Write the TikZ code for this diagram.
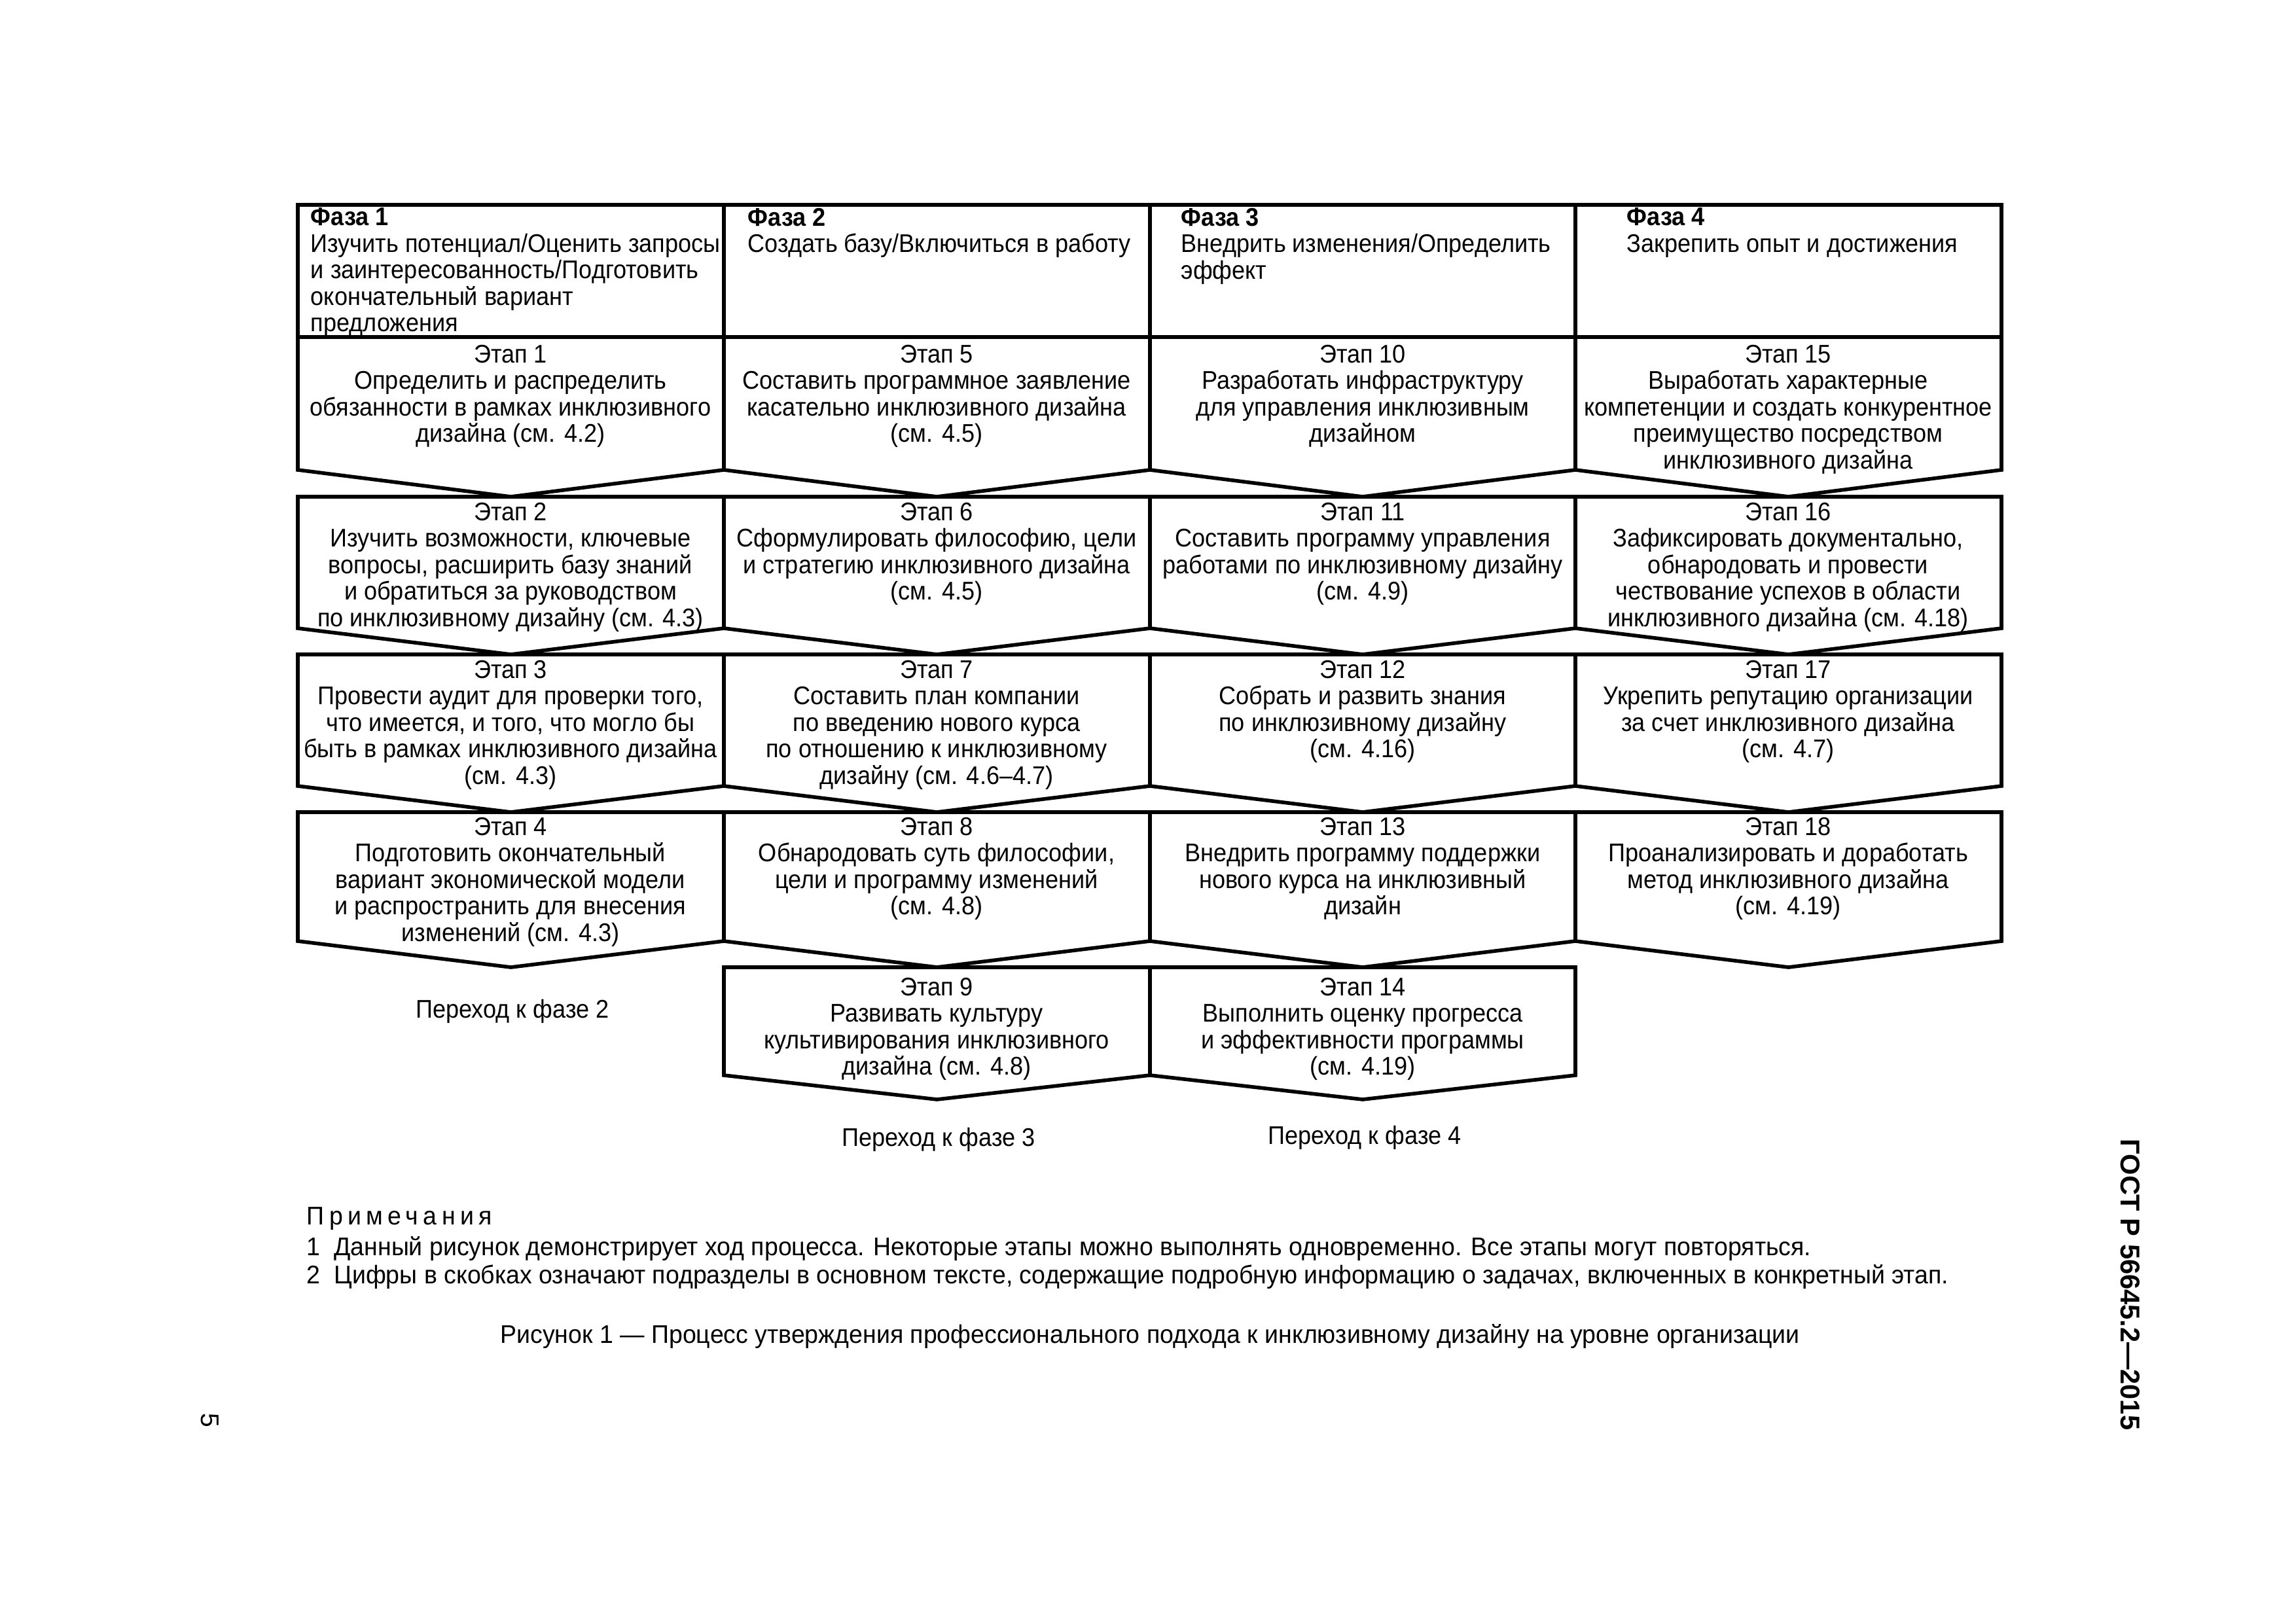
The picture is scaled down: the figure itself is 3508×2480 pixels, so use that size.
\documentclass[tikz,border=0pt]{standalone}
\usepackage{fontspec}
\setmainfont{Liberation Sans}
\newfontfamily\figfont[FakeStretch=0.925]{Liberation Sans}
\newfontfamily\notefont[FakeStretch=0.96]{Liberation Sans}
\newfontfamily\spacedfont[LetterSpace=19, FakeStretch=0.96]{Liberation Sans}
\usetikzlibrary{positioning}

\begin{document}
\begin{tikzpicture}[
    x=0.08466mm, y=-0.08466mm,
    frame/.style={draw, line width=1.35pt, line join=miter},
    stagetext/.style={anchor=north, align=center, inner sep=0pt, font=\figfont\fontsize{9.4}{9.75}\selectfont},
    phasetext/.style={anchor=north west, align=left, inner sep=0pt, font=\figfont\fontsize{9.4}{9.75}\selectfont},
    nexttext/.style={inner sep=0pt, font=\figfont\fontsize{9.4}{9.75}\selectfont},
    notetext/.style={anchor=base west, inner sep=0pt, font=\notefont\fontsize{9.4}{11}\selectfont}
  ]
  \useasboundingbox (0,0) rectangle (3508,2480);

  % Phase header
  \draw[frame] (455,313) rectangle (3058,515);
  \foreach \xc in {1106,1757,2407}
    \draw[frame] (\xc,313) -- (\xc,515);

  % Stage chevrons
  \foreach \t/\s/\p in {515/718/759, 759/960/1000, 1000/1201/1241, 1241/1438/1478}
    \foreach \xl/\xr in {455/1106, 1106/1757, 1757/2407, 2407/3058}
      \draw[frame] (\xl,\t) -- (\xr,\t) -- (\xr,\s) -- ({(\xl+\xr)/2},\p) -- (\xl,\s) -- cycle;
  \foreach \xl/\xr in {1106/1757, 1757/2407}
    \draw[frame] (\xl,1478) -- (\xr,1478) -- (\xr,1643) -- ({(\xl+\xr)/2},1680) -- (\xl,1643) -- cycle;

  % Phases
  \node[phasetext] (f1) at (474,317) {\textbf{Фаза 1}\\Изучить потенциал/Оценить запросы\\и заинтересованность/Подготовить\\окончательный вариант\\предложения};
  \node[phasetext] (f2) at (1142,317) {\textbf{Фаза 2}\\Создать базу/Включиться в работу};
  \node[phasetext] (f3) at (1804,317) {\textbf{Фаза 3}\\Внедрить изменения/Определить\\эффект};
  \node[phasetext] (f4) at (2485,317) {\textbf{Фаза 4}\\Закрепить опыт и достижения};

  % Phase 1
  \node[stagetext] (s1) at (780,526) {Этап 1\\Определить и распределить\\обязанности в рамках инклюзивного\\дизайна (см. 4.2)};
  \node[stagetext] (s2) at (780,767) {Этап 2\\Изучить возможности, ключевые\\вопросы, расширить базу знаний\\и обратиться за руководством\\по инклюзивному дизайну (см. 4.3)};
  \node[stagetext] (s3) at (780,1008) {Этап 3\\Провести аудит для проверки того,\\что имеется, и того, что могло бы\\быть в рамках инклюзивного дизайна\\(см. 4.3)};
  \node[stagetext] (s4) at (780,1248) {Этап 4\\Подготовить окончательный\\вариант экономической модели\\и распространить для внесения\\изменений (см. 4.3)};

  % Phase 2
  \node[stagetext] (s5) at (1431,526) {Этап 5\\Составить программное заявление\\касательно инклюзивного дизайна\\(см. 4.5)};
  \node[stagetext] (s6) at (1431,767) {Этап 6\\Сформулировать философию, цели\\и стратегию инклюзивного дизайна\\(см. 4.5)};
  \node[stagetext] (s7) at (1431,1008) {Этап 7\\Составить план компании\\по введению нового курса\\по отношению к инклюзивному\\дизайну (см. 4.6–4.7)};
  \node[stagetext] (s8) at (1431,1248) {Этап 8\\Обнародовать суть философии,\\цели и программу изменений\\(см. 4.8)};
  \node[stagetext] (s9) at (1431,1493) {Этап 9\\Развивать культуру\\культивирования инклюзивного\\дизайна (см. 4.8)};

  % Phase 3
  \node[stagetext] (s10) at (2082,526) {Этап 10\\Разработать инфраструктуру\\для управления инклюзивным\\дизайном};
  \node[stagetext] (s11) at (2082,767) {Этап 11\\Составить программу управления\\работами по инклюзивному дизайну\\(см. 4.9)};
  \node[stagetext] (s12) at (2082,1008) {Этап 12\\Собрать и развить знания\\по инклюзивному дизайну\\(см. 4.16)};
  \node[stagetext] (s13) at (2082,1248) {Этап 13\\Внедрить программу поддержки\\нового курса на инклюзивный\\дизайн};
  \node[stagetext] (s14) at (2082,1493) {Этап 14\\Выполнить оценку прогресса\\и эффективности программы\\(см. 4.19)};

  % Phase 4
  \node[stagetext] (s15) at (2732,526) {Этап 15\\Выработать характерные\\компетенции и создать конкурентное\\преимущество посредством\\инклюзивного дизайна};
  \node[stagetext] (s16) at (2732,767) {Этап 16\\Зафиксировать документально,\\обнародовать и провести\\чествование успехов в области\\инклюзивного дизайна (см. 4.18)};
  \node[stagetext] (s17) at (2732,1008) {Этап 17\\Укрепить репутацию организации\\за счет инклюзивного дизайна\\(см. 4.7)};
  \node[stagetext] (s18) at (2732,1248) {Этап 18\\Проанализировать и доработать\\метод инклюзивного дизайна\\(см. 4.19)};

  % Transitions
  \node[nexttext] (n2) at (783,1545) {Переход к фазе 2};
  \node[nexttext] (n3) at (1434,1741) {Переход к фазе 3};
  \node[nexttext] (n4) at (2085,1738) {Переход к фазе 4};

  % Notes and caption
  \node[notetext, font=\spacedfont\fontsize{9.4}{11}\selectfont] (notes) at (468,1871) {Примечания};
  \node[notetext] (note1) at (468,1918) {1\ \ Данный рисунок демонстрирует ход процесса. Некоторые этапы можно выполнять одновременно. Все этапы могут повторяться.};
  \node[notetext] (note2) at (468,1961) {2\ \ Цифры в скобках означают подразделы в основном тексте, содержащие подробную информацию о задачах, включенных в конкретный этап.};
  \node[notetext, anchor=base] (caption) at (1757,2052) {Рисунок 1 — Процесс утверждения профессионального подхода к инклюзивному дизайну на уровне организации};

  % Page marks
  \node[rotate=-90, inner sep=0pt, font=\fontsize{10}{12}\selectfont\bfseries] (gost) at (3255,1963) {ГОСТ Р 56645.2—2015};
  \node[rotate=-90, inner sep=0pt, font=\fontsize{9.4}{11}\selectfont] (page) at (321,2170) {5};
\end{tikzpicture}
\end{document}
